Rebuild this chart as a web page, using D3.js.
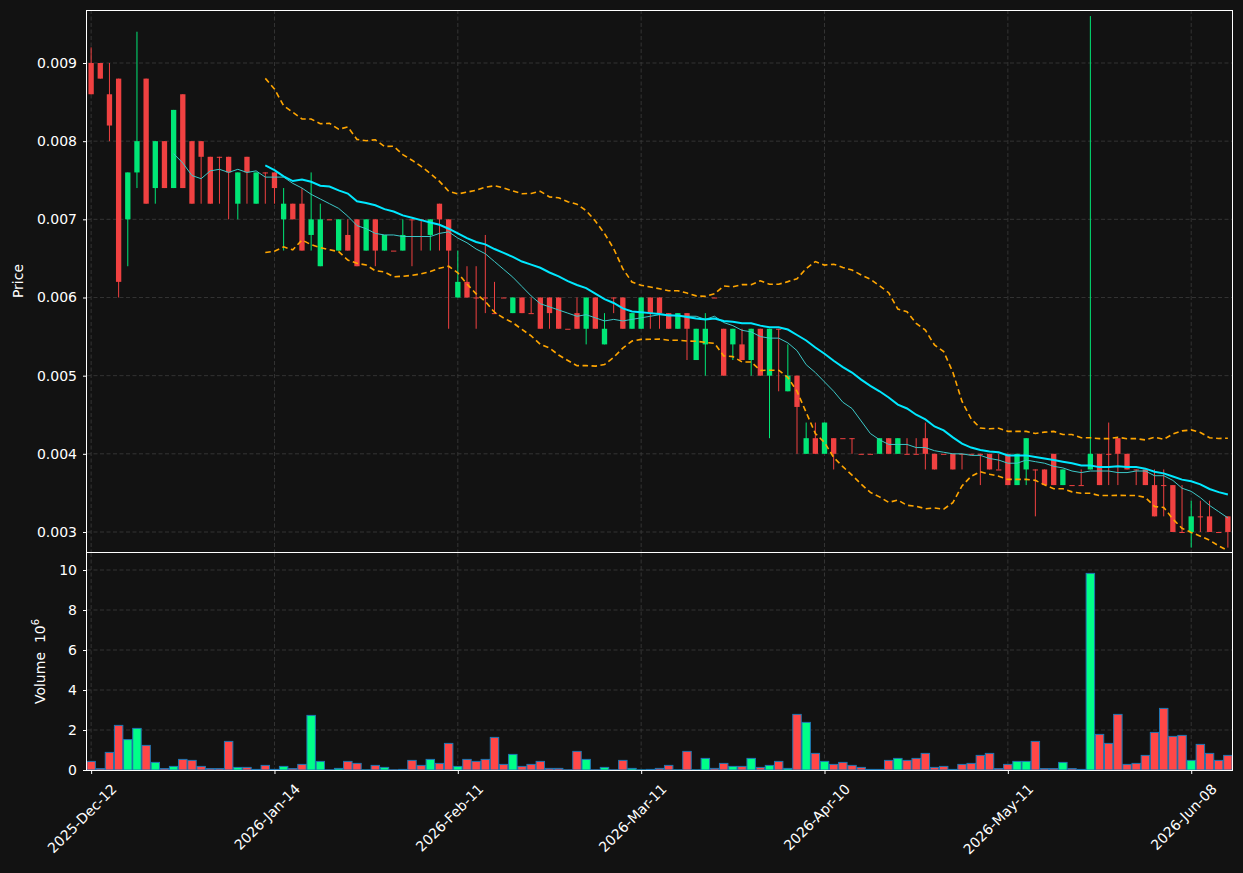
<!DOCTYPE html>
<html>
<head>
<meta charset="utf-8">
<script src="https://cdn.jsdelivr.net/npm/d3@7"></script>
<style>
  body { margin: 0; background: #121212; }
  svg { display: block; font-family: "DejaVu Sans", sans-serif; }
</style>
</head>
<body>
<div id="chart"></div>
<script>
// candle data (one value per trading day)
var opens = [
  0.0090, 0.0090, 0.0086, 0.0088, 0.0070, 0.0076, 0.0088, 0.0074, 0.0080, 0.0074,
  0.0086, 0.0080, 0.0080, 0.0078, 0.0078, 0.0078, 0.0072, 0.0078, 0.0072, 0.0076,
  0.0076, 0.0070, 0.0072, 0.0072, 0.0068, 0.0064, 0.0070, 0.0066, 0.0068, 0.0070,
  0.0066, 0.0070, 0.0066, 0.0066, 0.0066, 0.0070, 0.0070, 0.0068, 0.0072, 0.0070,
  0.0060, 0.0062, 0.0060, 0.0060, 0.0058, 0.0060, 0.0058, 0.0060, 0.0058, 0.0060,
  0.0060, 0.0060, 0.0056, 0.0058, 0.0056, 0.0060, 0.0054, 0.0060, 0.0060, 0.0056,
  0.0056, 0.0060, 0.0060, 0.0058, 0.0056, 0.0058, 0.0052, 0.0054, 0.0060, 0.0056,
  0.0054, 0.0054, 0.0052, 0.0056, 0.0050, 0.0056, 0.0048, 0.0050, 0.0040, 0.0042,
  0.0040, 0.0042, 0.0042, 0.0042, 0.0040, 0.0040, 0.0040, 0.0042, 0.0040, 0.0040,
  0.0040, 0.0042, 0.0040, 0.0040, 0.0040, 0.0040, 0.0040, 0.0040, 0.0040, 0.0038,
  0.0040, 0.0036, 0.0038, 0.0038, 0.0038, 0.0040, 0.0036, 0.0036, 0.0036, 0.0038,
  0.0040, 0.0040, 0.0042, 0.0040, 0.0038, 0.0038, 0.0036, 0.0036, 0.0036, 0.0030,
  0.0030, 0.0032, 0.0032, 0.0030, 0.0032
];
var highs = [
  0.0092, 0.0090, 0.0090, 0.0088, 0.0076, 0.0094, 0.0088, 0.0080, 0.0080, 0.0084,
  0.0086, 0.0080, 0.0080, 0.0078, 0.0078, 0.0078, 0.0076, 0.0078, 0.0076, 0.0076,
  0.0076, 0.0074, 0.0072, 0.0074, 0.0076, 0.0072, 0.0070, 0.0070, 0.0070, 0.0070,
  0.0070, 0.0070, 0.0068, 0.0066, 0.0070, 0.0070, 0.0070, 0.0070, 0.0072, 0.0070,
  0.0066, 0.0064, 0.0064, 0.0068, 0.0062, 0.0060, 0.0060, 0.0060, 0.0060, 0.0060,
  0.0060, 0.0060, 0.0056, 0.0060, 0.0060, 0.0060, 0.0058, 0.0060, 0.0060, 0.0058,
  0.0060, 0.0060, 0.0060, 0.0058, 0.0058, 0.0058, 0.0056, 0.0058, 0.0060, 0.0056,
  0.0056, 0.0056, 0.0056, 0.0056, 0.0056, 0.0056, 0.0054, 0.0050, 0.0044, 0.0044,
  0.0044, 0.0042, 0.0042, 0.0042, 0.0040, 0.0040, 0.0042, 0.0042, 0.0042, 0.0042,
  0.0042, 0.0044, 0.0040, 0.0040, 0.0040, 0.0040, 0.0040, 0.0040, 0.0040, 0.0040,
  0.0040, 0.0040, 0.0042, 0.0038, 0.0038, 0.0040, 0.0038, 0.0036, 0.0038, 0.0096,
  0.0040, 0.0044, 0.0042, 0.0040, 0.0038, 0.0038, 0.0038, 0.0038, 0.0036, 0.0036,
  0.0034, 0.0034, 0.0034, 0.0030, 0.0032
];
var lows = [
  0.0086, 0.0088, 0.0080, 0.0060, 0.0064, 0.0074, 0.0072, 0.0072, 0.0074, 0.0074,
  0.0074, 0.0072, 0.0072, 0.0072, 0.0072, 0.0070, 0.0070, 0.0072, 0.0072, 0.0072,
  0.0072, 0.0066, 0.0070, 0.0066, 0.0066, 0.0064, 0.0070, 0.0066, 0.0066, 0.0064,
  0.0066, 0.0064, 0.0066, 0.0066, 0.0066, 0.0064, 0.0066, 0.0066, 0.0066, 0.0056,
  0.0060, 0.0060, 0.0056, 0.0058, 0.0058, 0.0060, 0.0058, 0.0058, 0.0058, 0.0056,
  0.0056, 0.0056, 0.0056, 0.0056, 0.0054, 0.0056, 0.0054, 0.0058, 0.0056, 0.0056,
  0.0056, 0.0056, 0.0056, 0.0056, 0.0056, 0.0052, 0.0052, 0.0050, 0.0060, 0.0050,
  0.0052, 0.0052, 0.0050, 0.0050, 0.0042, 0.0048, 0.0048, 0.0040, 0.0040, 0.0040,
  0.0040, 0.0038, 0.0042, 0.0040, 0.0040, 0.0040, 0.0040, 0.0040, 0.0040, 0.0040,
  0.0040, 0.0038, 0.0038, 0.0040, 0.0038, 0.0038, 0.0040, 0.0036, 0.0038, 0.0038,
  0.0036, 0.0036, 0.0036, 0.0032, 0.0036, 0.0036, 0.0036, 0.0036, 0.0036, 0.0038,
  0.0036, 0.0036, 0.0036, 0.0038, 0.0036, 0.0036, 0.0032, 0.0032, 0.0030, 0.0030,
  0.0028, 0.0030, 0.0030, 0.0030, 0.0028
];
var closes = [
  0.0086, 0.0088, 0.0082, 0.0062, 0.0076, 0.0080, 0.0072, 0.0080, 0.0074, 0.0084,
  0.0074, 0.0072, 0.0078, 0.0072, 0.0078, 0.0076, 0.0076, 0.0076, 0.0076, 0.0076,
  0.0074, 0.0072, 0.0070, 0.0066, 0.0070, 0.0070, 0.0070, 0.0070, 0.0066, 0.0064,
  0.0070, 0.0066, 0.0068, 0.0066, 0.0068, 0.0070, 0.0070, 0.0070, 0.0070, 0.0066,
  0.0062, 0.0060, 0.0060, 0.0060, 0.0058, 0.0060, 0.0060, 0.0058, 0.0058, 0.0056,
  0.0058, 0.0056, 0.0056, 0.0056, 0.0060, 0.0056, 0.0056, 0.0060, 0.0056, 0.0058,
  0.0060, 0.0058, 0.0058, 0.0056, 0.0058, 0.0056, 0.0056, 0.0056, 0.0060, 0.0050,
  0.0056, 0.0052, 0.0056, 0.0050, 0.0056, 0.0056, 0.0050, 0.0046, 0.0042, 0.0040,
  0.0044, 0.0040, 0.0042, 0.0042, 0.0040, 0.0040, 0.0042, 0.0040, 0.0042, 0.0040,
  0.0040, 0.0040, 0.0038, 0.0040, 0.0038, 0.0040, 0.0040, 0.0040, 0.0038, 0.0038,
  0.0036, 0.0040, 0.0042, 0.0038, 0.0036, 0.0036, 0.0038, 0.0036, 0.0036, 0.0040,
  0.0036, 0.0040, 0.0040, 0.0038, 0.0038, 0.0036, 0.0032, 0.0036, 0.0030, 0.0030,
  0.0032, 0.0032, 0.0030, 0.0030, 0.0030
];
// volume in millions
var volumes = [
  0.43, 0.07, 0.88, 2.23, 1.52, 2.08, 1.23, 0.38, 0.07, 0.18,
  0.53, 0.48, 0.18, 0.07, 0.07, 1.43, 0.13, 0.13, 0.03, 0.23,
  0.03, 0.18, 0.07, 0.28, 2.73, 0.43, 0.01, 0.08, 0.43, 0.33,
  0.01, 0.23, 0.13, 0.01, 0.03, 0.48, 0.23, 0.53, 0.33, 1.33,
  0.18, 0.53, 0.43, 0.53, 1.63, 0.28, 0.78, 0.18, 0.28, 0.43,
  0.08, 0.08, 0.01, 0.93, 0.53, 0.01, 0.13, 0.01, 0.48, 0.08,
  0.01, 0.03, 0.08, 0.23, 0.01, 0.93, 0.01, 0.58, 0.08, 0.33,
  0.18, 0.18, 0.58, 0.13, 0.23, 0.43, 0.08, 2.78, 2.38, 0.83,
  0.43, 0.28, 0.38, 0.23, 0.13, 0.03, 0.03, 0.48, 0.58, 0.48,
  0.58, 0.83, 0.13, 0.18, 0.03, 0.28, 0.33, 0.73, 0.83, 0.07,
  0.28, 0.43, 0.43, 1.43, 0.07, 0.07, 0.38, 0.07, 0.03, 9.83,
  1.78, 1.33, 2.78, 0.28, 0.33, 0.73, 1.88, 3.08, 1.68, 1.73,
  0.48, 1.28, 0.83, 0.48, 0.73
];

// x tick labels and the candle index they sit on
var tickIndex = [0, 20, 40, 60, 80, 100, 120];
var tickLabels = ["2025-Dec-12", "2026-Jan-14", "2026-Feb-11", "2026-Mar-11", "2026-Apr-10", "2026-May-11", "2026-Jun-08"];
var priceTicks = [0.003, 0.004, 0.005, 0.006, 0.007, 0.008, 0.009];
var volumeTicks = [0, 2, 4, 6, 8, 10];

var width = 1243, height = 873;
var left = 87, right = 1232;
var priceTop = 10, priceBottom = 552;
var volTop = 553, volBottom = 770;

var upColor = "#00e676", downColor = "#f04141";
var volUp = "#00ff88", volDown = "#ff4747";

var data = closes.map(function(c, i) {
    return {i: i, open: opens[i], high: highs[i], low: lows[i], close: c, volume: volumes[i]};
});

// moving averages and bollinger band from the closes
function sma(period) {
    return closes.map(function(c, i) {
        if (i < period - 1) return null;
        return d3.mean(closes.slice(i - period + 1, i + 1));
    });
}
var ma10 = sma(10);
var ma20 = sma(20);
var bandUp = [], bandDown = [];
closes.forEach(function(c, i) {
    if (i < 19) { bandUp.push(null); bandDown.push(null); return; }
    var w = closes.slice(i - 19, i + 1);
    var m = d3.mean(w);
    var sd = Math.sqrt(d3.mean(w, function(v) { return (v - m) * (v - m); }));
    bandUp.push(m + 2 * sd);
    bandDown.push(m - 2 * sd);
});

var svg = d3.select("#chart").append("svg")
    .attr("width", width)
    .attr("height", height);

svg.append("rect").attr("width", width).attr("height", height).attr("fill", "#121212");

var x = d3.scaleLinear().domain([-0.45, 124.45]).range([left, right]);
var yPrice = d3.scaleLinear().domain([0.002744, 0.009678]).range([priceBottom, priceTop]);
var yVol = d3.scaleLinear().domain([0, 10.85]).range([volBottom, volTop]);

var step = x(1) - x(0);

// grids
function grid(y0, y1, yScale, ticks) {
    var g = svg.append("g")
        .attr("stroke", "#3c3c3c")
        .attr("stroke-width", 0.8)
        .attr("stroke-dasharray", "4,2.5");
    g.selectAll("line.v").data(tickIndex).enter().append("line")
        .attr("x1", d => x(d)).attr("x2", d => x(d))
        .attr("y1", y0).attr("y2", y1);
    g.selectAll("line.h").data(ticks).enter().append("line")
        .attr("x1", left).attr("x2", right)
        .attr("y1", d => yScale(d)).attr("y2", d => yScale(d));
}
grid(priceTop, priceBottom, yPrice, priceTicks);
grid(volTop, volBottom, yVol, volumeTicks);

// candles
var candles = svg.append("g");
candles.selectAll("line").data(data).enter().append("line")
    .attr("x1", d => x(d.i)).attr("x2", d => x(d.i))
    .attr("y1", d => yPrice(d.high)).attr("y2", d => yPrice(d.low))
    .attr("stroke", d => d.close > d.open ? upColor : downColor)
    .attr("stroke-width", 1);
candles.selectAll("rect").data(data).enter().append("rect")
    .attr("x", d => x(d.i) - step * 0.29)
    .attr("width", step * 0.58)
    .attr("y", d => yPrice(Math.max(d.open, d.close)))
    .attr("height", d => Math.max(1, Math.abs(yPrice(d.open) - yPrice(d.close))))
    .attr("fill", d => d.close > d.open ? upColor : downColor);

// indicator lines
function drawLine(values, color, w, dash) {
    var line = d3.line()
        .defined(d => d != null)
        .x((d, i) => x(i))
        .y(d => yPrice(d))
        .curve(d3.curveLinear);
    svg.append("path")
        .datum(values)
        .attr("d", line)
        .attr("fill", "none")
        .attr("stroke", color)
        .attr("stroke-width", w)
        .attr("stroke-dasharray", dash);
}
drawLine(bandUp, "#ffa500", 1.6, "5.5,3.5");
drawLine(bandDown, "#ffa500", 1.6, "5.5,3.5");
drawLine(ma10, "#3cc8c8", 1, null);
drawLine(ma20, "#00e8ff", 2, null);

// volume bars
svg.append("g").selectAll("rect").data(data).enter().append("rect")
    .attr("x", d => x(d.i) - step * 0.46)
    .attr("width", step * 0.92)
    .attr("y", d => yVol(d.volume))
    .attr("height", d => yVol(0) - yVol(d.volume))
    .attr("fill", d => d.close > d.open ? volUp : volDown)
    .attr("stroke", "#1f77b4")
    .attr("stroke-width", 1);

// axes
var priceAxis = d3.axisLeft(yPrice).tickValues(priceTicks).tickFormat(d3.format(".3f")).tickSize(4).tickPadding(6);
var volAxis = d3.axisLeft(yVol).tickValues(volumeTicks).tickFormat(d3.format("d")).tickSize(4).tickPadding(6);
var xAxis = d3.axisBottom(x).tickValues(tickIndex).tickFormat((d, i) => tickLabels[i]).tickSize(4);

function styleAxis(g) {
    g.select(".domain").remove();
    g.selectAll("line").attr("stroke", "#ffffff");
    g.selectAll("text").attr("fill", "#ffffff").style("font-size", "14px").style("font-family", "DejaVu Sans");
}

svg.append("g").attr("transform", `translate(${left},0)`).call(priceAxis).call(styleAxis);
svg.append("g").attr("transform", `translate(${left},0)`).call(volAxis).call(styleAxis);

var xg = svg.append("g").attr("transform", `translate(0,${volBottom})`).call(xAxis).call(styleAxis);
xg.selectAll("text")
    .attr("text-anchor", "end")
    .attr("dy", null)
    .attr("y", 0)
    .attr("transform", "translate(26,20) rotate(-45)");

// frames (half pixel offset keeps the 1px border sharp)
svg.append("rect")
    .attr("x", left - 0.5).attr("y", priceTop + 0.5)
    .attr("width", right - left + 1).attr("height", priceBottom - priceTop)
    .attr("fill", "none").attr("stroke", "#ffffff").attr("stroke-width", 1);
svg.append("rect")
    .attr("x", left - 0.5).attr("y", volTop - 0.5)
    .attr("width", right - left + 1).attr("height", volBottom - volTop + 1)
    .attr("fill", "none").attr("stroke", "#ffffff").attr("stroke-width", 1);

// axis labels
svg.append("text")
    .attr("transform", `translate(23, ${(priceTop + priceBottom) / 2}) rotate(-90)`)
    .attr("text-anchor", "middle")
    .attr("fill", "#ffffff")
    .style("font-size", "14px")
    .text("Price");

var vl = svg.append("text")
    .attr("transform", `translate(45, ${(volTop + volBottom) / 2}) rotate(-90)`)
    .attr("text-anchor", "middle")
    .attr("fill", "#ffffff")
    .style("font-size", "14px");
vl.append("tspan").text("Volume\u00a0\u00a010");
vl.append("tspan").attr("dy", -6).style("font-size", "10px").text("6");
</script>
</body>
</html>
